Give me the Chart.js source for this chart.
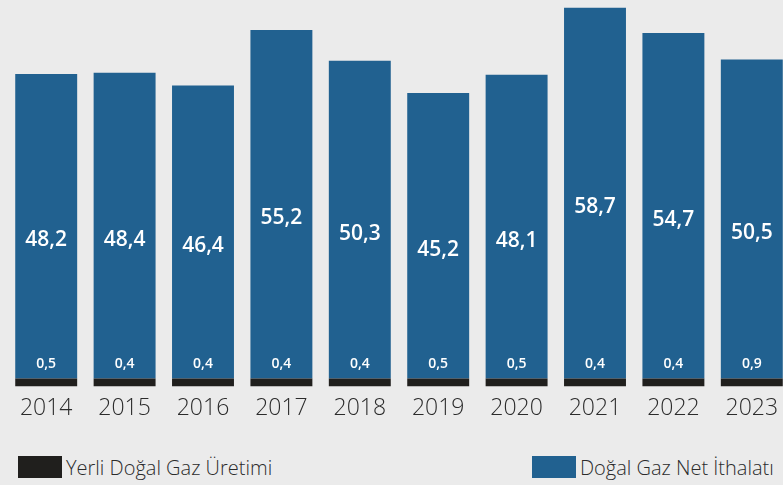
<!DOCTYPE html>
<html>
<head>
<meta charset="utf-8">
<script src="https://cdn.jsdelivr.net/npm/chart.js@4"></script>
<style>
  body { margin: 0; background: #ebebeb; overflow: hidden; width: 783px; height: 485px; position: relative; font-family: 'Open Sans', sans-serif; }
  #wrap { position: absolute; left: 0; top: 0; width: 798px; height: 422px; }
  .legend-item { position: absolute; top: 456px; height: 22px; display: flex; align-items: center; }
  .legend-item .box { width: 44px; height: 22px; margin-right: 4px; }
  .legend-item span { font-size: 20px; font-weight: 300; color: #2b2b2b; white-space: nowrap; }
</style>
</head>
<body>
<div id="wrap"><canvas id="gas-chart"></canvas></div>
<div id="legend"></div>
<script>
// Doğal gaz arzı (milyar m3)
const years = ['2014', '2015', '2016', '2017', '2018', '2019', '2020', '2021', '2022', '2023'];
const domesticProduction = [0.5, 0.4, 0.4, 0.4, 0.4, 0.5, 0.5, 0.4, 0.4, 0.9];
const netImports = [48.2, 48.4, 46.4, 55.2, 50.3, 45.2, 48.1, 58.7, 54.7, 50.5];
const seriesNames = ['Yerli Doğal Gaz Üretimi', 'Doğal Gaz Net İthalatı'];
const seriesColors = ['#201f1d', '#216190'];
const legendLeft = [18, 532];

function formatTr(v) {
    return v.toFixed(1).replace('.', ',');
}

// draws the value labels inside the bars
const valueLabels = {
    id: 'valueLabels',
    afterDatasetsDraw(chart) {
        const ctx = chart.ctx;
        const zeroY = chart.scales.y.getPixelForValue(0);
        ctx.save();
        ctx.fillStyle = '#ffffff';
        ctx.textAlign = 'center';
        ctx.textBaseline = 'middle';

        chart.getDatasetMeta(1).data.forEach((bar, i) => {
            ctx.font = '600 21px "Open Sans"';
            ctx.fillText(formatTr(netImports[i]), bar.x, (bar.y + bar.base) / 2 + 14);
        });
        chart.getDatasetMeta(0).data.forEach((bar, i) => {
            ctx.font = '600 14px "Open Sans"';
            ctx.fillText(formatTr(domesticProduction[i]), bar.x, zeroY - 22);
        });
        ctx.restore();
    }
};

const ctx = document.getElementById('gas-chart');
const chart = new Chart(ctx, {
    type: 'bar',
    data: {
        labels: years,
        datasets: [{
            label: seriesNames[0],
            data: domesticProduction,
            backgroundColor: seriesColors[0],
            minBarLength: 8,
            categoryPercentage: 0.79,
            barPercentage: 1
        }, {
            label: seriesNames[1],
            data: netImports,
            backgroundColor: seriesColors[1],
            categoryPercentage: 0.79,
            barPercentage: 1
        }]
    },
    options: {
        responsive: true,
        maintainAspectRatio: false,
        animation: false,
        layout: {
            padding: { left: 7, right: 7, top: 0, bottom: 0 }
        },
        plugins: {
            legend: { display: false },
            tooltip: { enabled: false }
        },
        scales: {
            x: {
                stacked: true,
                grid: { display: false },
                border: { display: false },
                ticks: {
                    padding: 0,
                    color: '#2b2b2b',
                    font: { family: 'Open Sans', size: 23, weight: 300 }
                }
            },
            y: {
                stacked: true,
                display: false,
                min: 0,
                max: 61.2
            }
        }
    },
    plugins: [valueLabels]
});

// html legend
const legend = document.getElementById('legend');
seriesNames.forEach((name, i) => {
    const item = document.createElement('div');
    item.className = 'legend-item';
    item.style.left = legendLeft[i] + 'px';
    item.innerHTML = '<div class="box" style="background:' + seriesColors[i] + '"></div><span>' + name + '</span>';
    legend.appendChild(item);
});
</script>
</body>
</html>
